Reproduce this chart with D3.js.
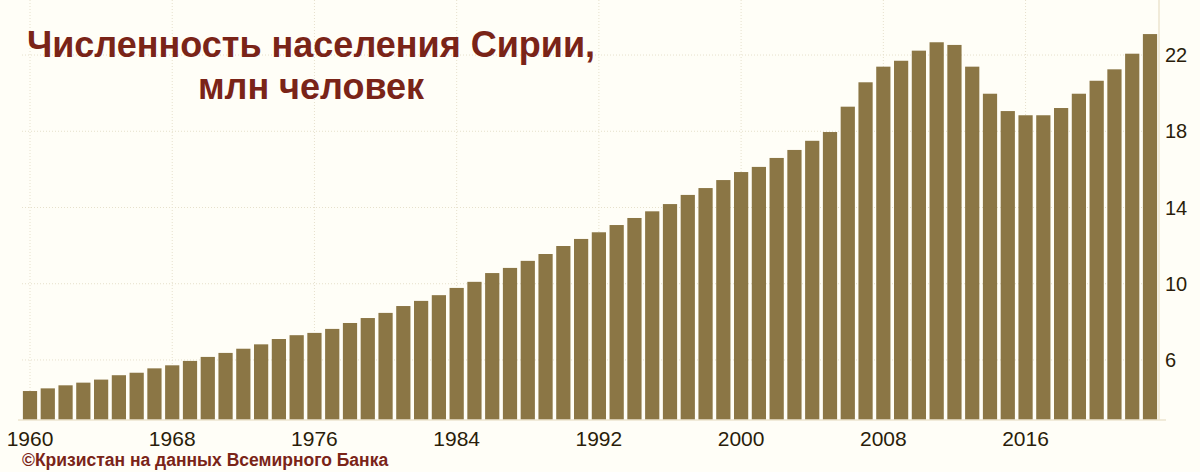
<!DOCTYPE html>
<html><head><meta charset="utf-8">
<script src="https://cdn.jsdelivr.net/npm/d3@7"></script>
<style>body{margin:0;background:#fffef7;}svg{display:block;}</style>
</head><body>
<svg id="chart" width="1200" height="472"></svg>
<script>
// Syria population, millions, 1960-2023
var years = d3.range(1960, 2024);
var population = [4.37, 4.51, 4.67, 4.81, 4.97, 5.20, 5.33, 5.56, 5.72, 5.95,
  6.16, 6.37, 6.59, 6.82, 7.10, 7.30, 7.42, 7.63, 7.94, 8.20,
  8.47, 8.83, 9.10, 9.40, 9.78, 10.10, 10.56, 10.83, 11.20, 11.56,
  11.98, 12.35, 12.70, 13.08, 13.45, 13.80, 14.18, 14.66, 15.02, 15.44,
  15.86, 16.13, 16.60, 17.02, 17.50, 17.96, 19.29, 20.57, 21.39, 21.70,
  22.23, 22.67, 22.53, 21.39, 19.97, 19.06, 18.84, 18.84, 19.22, 19.97,
  20.65, 21.25, 22.07, 23.10];
var yTicks = [6, 10, 14, 18, 22];
var xTicks = [1960, 1968, 1976, 1984, 1992, 2000, 2008, 2016];

var svg = d3.select("#chart");
var mLeft = 22, mRight = 1158, mTop = 0, mBottom = 420;

var x = d3.scaleBand().domain(years).range([mLeft, mRight]).paddingInner(0.2).paddingOuter(0.05);
var y = d3.scaleLinear().domain([2.85, 6 + 360 / 19.06]).range([mBottom, mTop]);

// gridlines
var grid = svg.append("g").attr("stroke", "#e6e0cc").attr("stroke-dasharray", "1,2");
grid.selectAll(".h").data(yTicks).enter().append("line")
    .attr("x1", mLeft).attr("x2", mRight).attr("y1", d => y(d)).attr("y2", d => y(d));
grid.selectAll(".v").data(xTicks).enter().append("line")
    .attr("x1", d => x(d) + x.bandwidth() / 2).attr("x2", d => x(d) + x.bandwidth() / 2)
    .attr("y1", 0).attr("y2", mBottom);

svg.selectAll(".bar").data(years).enter().append("rect")
    .attr("x", d => x(d))
    .attr("width", x.bandwidth())
    .attr("y", (d, i) => y(population[i]))
    .attr("height", (d, i) => mBottom - y(population[i]))
    .attr("fill", "#8b7645");

// axes
svg.append("line").attr("x1", mLeft - 4).attr("x2", mRight + 8).attr("y1", mBottom).attr("y2", mBottom)
    .attr("stroke", "#ece5cf").attr("stroke-width", 1.5);
svg.append("line").attr("x1", mRight + 1).attr("x2", mRight + 1).attr("y1", 0).attr("y2", mBottom)
    .attr("stroke", "#ece5cf").attr("stroke-width", 1.5);

svg.selectAll(".yl").data(yTicks).enter().append("text")
    .attr("x", 1165).attr("y", d => y(d) + 7)
    .attr("font-family", "'Liberation Sans', Arial, sans-serif").attr("font-size", 20)
    .attr("fill", "#2a1d0a").text(d => d);

svg.selectAll(".xl").data(xTicks).enter().append("text")
    .attr("x", d => x(d) + x.bandwidth() / 2).attr("y", 446)
    .attr("text-anchor", "middle")
    .attr("font-family", "'Liberation Sans', Arial, sans-serif").attr("font-size", 21)
    .attr("fill", "#2a1d0a").text(d => d);

// title
var title = svg.append("text").attr("font-family", "'Liberation Sans', Arial, sans-serif")
    .attr("font-weight", "bold").attr("font-size", 36).attr("fill", "#7a2418").attr("text-anchor", "middle");
title.append("tspan").attr("x", 311).attr("y", 57).text("Численность населения Сирии,");
title.append("tspan").attr("x", 311).attr("y", 99).text("млн человек");

svg.append("text").attr("x", 22).attr("y", 466)
    .attr("font-family", "'Liberation Sans', Arial, sans-serif").attr("font-weight", "bold")
    .attr("font-size", 17.5).attr("fill", "#7a2418")
    .text("©Кризистан на данных Всемирного Банка");
</script>
</body></html>
